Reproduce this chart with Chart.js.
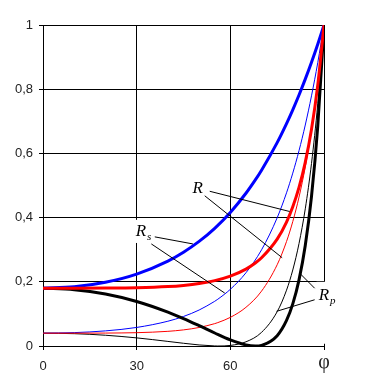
<!DOCTYPE html>
<html>
<head>
<meta charset="utf-8">
<script src="https://cdn.jsdelivr.net/npm/chart.js@4.4.0/dist/chart.umd.min.js"></script>
<style>
html, body { margin: 0; padding: 0; background: #fff; }
#wrap { position: relative; width: 375px; height: 389px; }
</style>
</head>
<body>
<div id="wrap"><canvas id="fresnelChart"></canvas></div>
<script>
// Angle of incidence (degrees) and reflectances
// thin curves: R at normal incidence 0.04
const anglesThin = [0, 10, 20, 30, 40, 45, 50, 55, 56, 60, 65, 70, 75, 78, 80, 82, 84, 86, 88, 90];
const rsThin = [0.04, 0.0417, 0.0471, 0.0578, 0.0772, 0.0920, 0.1121, 0.1393, 0.1458, 0.1766, 0.2281, 0.2996, 0.3994, 0.4773, 0.5386, 0.6086, 0.6884, 0.7793, 0.8826, 1];
const rpThin = [0.04, 0.0384, 0.0335, 0.0253, 0.0143, 0.0085, 0.0033, 0.0002, 0, 0.0018, 0.0130, 0.0425, 0.1068, 0.1740, 0.2368, 0.3193, 0.4273, 0.5688, 0.7549, 1];
const rThin = [0.04, 0.0400, 0.0403, 0.0415, 0.0457, 0.0502, 0.0577, 0.0697, 0.0729, 0.0892, 0.1205, 0.1710, 0.2531, 0.3256, 0.3877, 0.4639, 0.5578, 0.6740, 0.8188, 1];

// thick curves: R at normal incidence 0.18
const anglesThick = [0, 10, 20, 30, 40, 45, 50, 55, 60, 65, 68, 70, 75, 78, 80, 82, 84, 86, 88, 90];
const rsThick = [0.18, 0.1845, 0.1986, 0.2241, 0.2646, 0.2922, 0.3258, 0.3667, 0.4161, 0.4758, 0.5173, 0.5476, 0.6335, 0.6928, 0.7359, 0.7820, 0.8313, 0.8840, 0.9402, 1];
const rpThick = [0.18, 0.1756, 0.1620, 0.1388, 0.1056, 0.0854, 0.0633, 0.0405, 0.0191, 0.0034, 0, 0.0020, 0.0323, 0.0796, 0.1311, 0.2059, 0.3131, 0.4660, 0.6848, 1];
const rThick = [0.18, 0.1800, 0.1803, 0.1815, 0.1851, 0.1888, 0.1946, 0.2036, 0.2176, 0.2396, 0.2586, 0.2748, 0.3329, 0.3862, 0.4335, 0.4940, 0.5722, 0.6750, 0.8125, 1];

// Axis ticks (the last x tick carries the angle symbol)
const xTicks = [0, 30, 60, 90];
const xTickLabels = ['0', '30', '60', 'φ'];
const yTickLabels = ['0', '0,2', '0,4', '0,6', '0,8', '1'];

function toPoints(xs, ys) {
    return xs.map((x, i) => ({ x: x, y: ys[i] }));
}

function curve(xs, ys, color, width) {
    return {
        data: toPoints(xs, ys),
        borderColor: color,
        borderWidth: width,
        pointRadius: 0,
        fill: false,
        cubicInterpolationMode: 'monotone'
    };
}

// Curve labels with leader lines (in data coordinates)
const labelBoxes = [
    [29.0, 0.393, 36.1, 0.321],
    [87.6, 0.200, 96.6, 0.007]
];
const leaderLines = [
    [53.4, 0.482, 79.0, 0.419],
    [51.8, 0.468, 76.6, 0.275],
    [35.8, 0.340, 48.0, 0.318],
    [34.7, 0.318, 58.2, 0.165],
    [87.0, 0.180, 82.2, 0.227],
    [87.0, 0.144, 74.8, 0.108]
];
const curveLabels = [
    { text: 'R', sub: '', x: 47.9, y: 0.477 },
    { text: 'R', sub: 's', x: 29.7, y: 0.342 },
    { text: 'R', sub: 'p', x: 88.3, y: 0.144 }
];

const labelPlugin = {
    id: 'curveLabels',
    afterDraw(chart) {
        const ctx = chart.ctx;
        const xs = chart.scales.x, ys = chart.scales.y;
        ctx.save();
        ctx.fillStyle = '#fff';
        labelBoxes.forEach(b => {
            const x1 = xs.getPixelForValue(b[0]), y1 = ys.getPixelForValue(b[1]);
            const x2 = xs.getPixelForValue(b[2]), y2 = ys.getPixelForValue(b[3]);
            ctx.fillRect(x1, y1, x2 - x1, y2 - y1);
        });
        ctx.strokeStyle = '#000';
        ctx.lineWidth = 1;
        leaderLines.forEach(l => {
            ctx.beginPath();
            ctx.moveTo(xs.getPixelForValue(l[0]), ys.getPixelForValue(l[1]));
            ctx.lineTo(xs.getPixelForValue(l[2]), ys.getPixelForValue(l[3]));
            ctx.stroke();
        });
        ctx.fillStyle = '#000';
        ctx.textBaseline = 'alphabetic';
        curveLabels.forEach(lb => {
            const px = xs.getPixelForValue(lb.x), py = ys.getPixelForValue(lb.y);
            ctx.font = 'italic 17px "Liberation Serif"';
            ctx.fillText(lb.text, px, py);
            if (lb.sub) {
                const w = ctx.measureText(lb.text).width;
                ctx.font = 'italic 11px "Liberation Serif"';
                ctx.fillText(lb.sub, px + w + 1, py + 4);
            }
        });

        // angle symbol under the last x tick, drawn larger in a serif face
        ctx.font = '20px "Liberation Serif"';
        ctx.textAlign = 'center';
        ctx.fillStyle = '#222';
        ctx.fillText(xTickLabels[3], xs.getPixelForValue(xTicks[3]), ys.bottom + 22);
        ctx.restore();
    }
};

const ctx = document.getElementById('fresnelChart').getContext('2d');
new Chart(ctx, {
    type: 'line',
    data: {
        datasets: [
            curve(anglesThick, rThick, '#ff0000', 3),
            curve(anglesThick, rsThick, '#0000ff', 3),
            curve(anglesThick, rpThick, '#000000', 3),
            curve(anglesThin, rThin, '#ff0000', 1),
            curve(anglesThin, rsThin, '#0000ff', 1),
            curve(anglesThin, rpThin, '#000000', 1)
        ]
    },
    options: {
        responsive: true,
        maintainAspectRatio: false,
        animation: false,
        layout: { padding: { top: 25, right: 51, bottom: 0, left: 0 } },
        plugins: {
            legend: { display: false },
            tooltip: { enabled: false }
        },
        scales: {
            x: {
                type: 'linear',
                min: 0,
                max: 90,
                afterFit: s => { s.height = 43; },
                afterBuildTicks: s => { s.ticks = xTicks.map(v => ({ value: v })); },
                grid: { color: '#000', lineWidth: 1, tickLength: 4 },
                border: { color: '#000' },
                ticks: {
                    padding: 9,
                    color: '#222',
                    maxRotation: 0,
                    callback: (v, i) => (i < 3 ? xTickLabels[i] : ''),
                    font: { family: '"Liberation Sans"', size: 13 }
                }
            },
            y: {
                min: 0,
                max: 1,
                afterFit: s => { s.width = 43; },
                afterBuildTicks: s => { s.ticks = yTickLabels.map((t, i) => ({ value: i * 0.2 })); },
                grid: { color: '#000', lineWidth: 1, tickLength: 4 },
                border: { color: '#000' },
                ticks: {
                    padding: 6,
                    color: '#222',
                    callback: (v, i) => yTickLabels[i],
                    font: { family: '"Liberation Sans"', size: 13 }
                }
            }
        }
    },
    plugins: [labelPlugin]
});
</script>
</body>
</html>
